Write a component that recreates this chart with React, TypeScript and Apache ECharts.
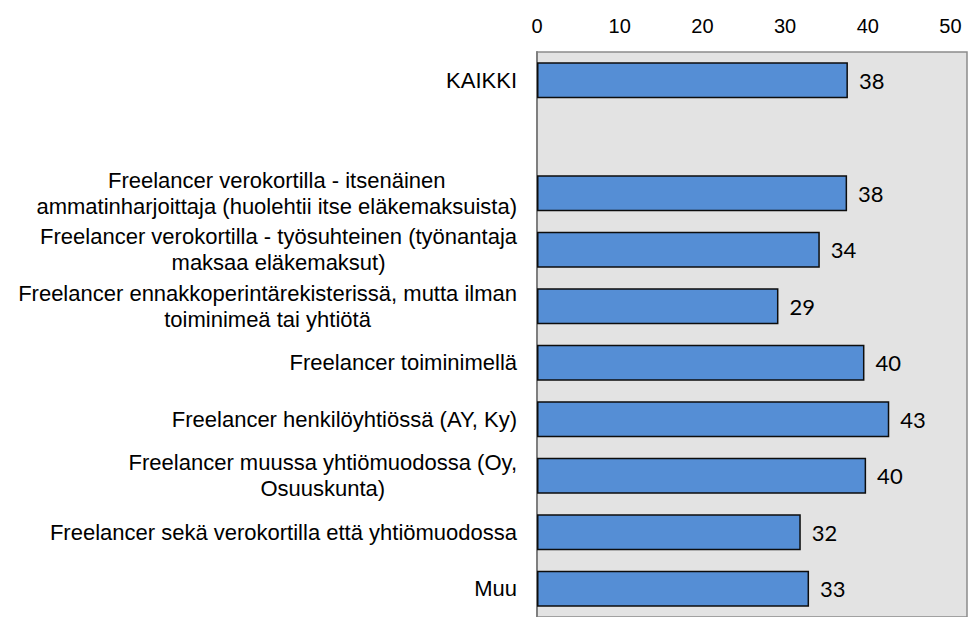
import React, { useEffect, useRef } from "react";
import * as echarts from "echarts";

const categories: string[] = [
  "KAIKKI",
  "",
  "Freelancer verokortilla - itsenäinen\nammatinharjoittaja (huolehtii itse eläkemaksuista)",
  "Freelancer verokortilla - työsuhteinen (työnantaja\nmaksaa eläkemaksut)",
  "Freelancer ennakkoperintärekisterissä, mutta ilman\ntoiminimeä tai yhtiötä",
  "Freelancer toiminimellä",
  "Freelancer henkilöyhtiössä (AY, Ky)",
  "Freelancer muussa yhtiömuodossa (Oy,\nOsuuskunta)",
  "Freelancer sekä verokortilla että yhtiömuodossa",
  "Muu",
];

const values: (number | null)[] = [37.6, null, 37.5, 34.2, 29.2, 39.6, 42.6, 39.8, 31.9, 32.9];

const xMin = 0;
const xMax = 52;
const xInterval = 10;

export default function App() {
  const ref = useRef<HTMLDivElement>(null);

  useEffect(() => {
    document.body.style.margin = "0";
    if (!ref.current) return;
    const chart = echarts.init(ref.current, undefined, { renderer: "svg" });
    chart.setOption({
      animation: false,
      grid: {
        left: 537,
        top: 52,
        width: 430,
        height: 567,
        show: true,
        backgroundColor: "#E3E3E3",
        borderColor: "#8C8C8C",
        borderWidth: 1.5,
      },
      xAxis: {
        type: "value",
        position: "top",
        min: xMin,
        max: xMax,
        interval: xInterval,
        splitLine: { show: false },
        axisLine: { show: false },
        axisTick: { show: false },
        axisLabel: {
          showMaxLabel: false,
          formatter: (v: number) => (v % xInterval === 0 ? String(v) : ""),
          fontFamily: "Liberation Sans, Arial, sans-serif",
          fontSize: 20,
          color: "#000",
          margin: 16,
        },
      },
      yAxis: {
        type: "category",
        inverse: true,
        data: categories,
        axisTick: { show: false },
        axisLine: { show: true, lineStyle: { color: "#7F7F7F", width: 2 } },
        axisLabel: {
          margin: 20,
          interval: 0,
          formatter: (v: string) =>
            v ? v.split("\n").map((l) => `{c|${l}}`).join("\n") : "",
          rich: {
            c: {
              align: "center",
              fontFamily: "Liberation Sans, Arial, sans-serif",
              fontSize: 22,
              lineHeight: 26,
              color: "#000",
            },
          },
        },
      },
      series: [
        {
          type: "bar",
          data: values,
          barCategoryGap: "36%",
          itemStyle: {
            color: "#558ED5",
            borderColor: "#0D0D0D",
            borderWidth: 1.5,
          },
          label: {
            show: true,
            position: "right",
            distance: 11,
            formatter: (p: any) => (p.value == null ? "" : String(Math.round(p.value))),
            fontFamily: "Lato, sans-serif",
            fontSize: 22,
            color: "#000",
          },
        },
      ],
    });
    return () => chart.dispose();
  }, []);

  return <div ref={ref} style={{ width: 972, height: 617 }} />;
}
